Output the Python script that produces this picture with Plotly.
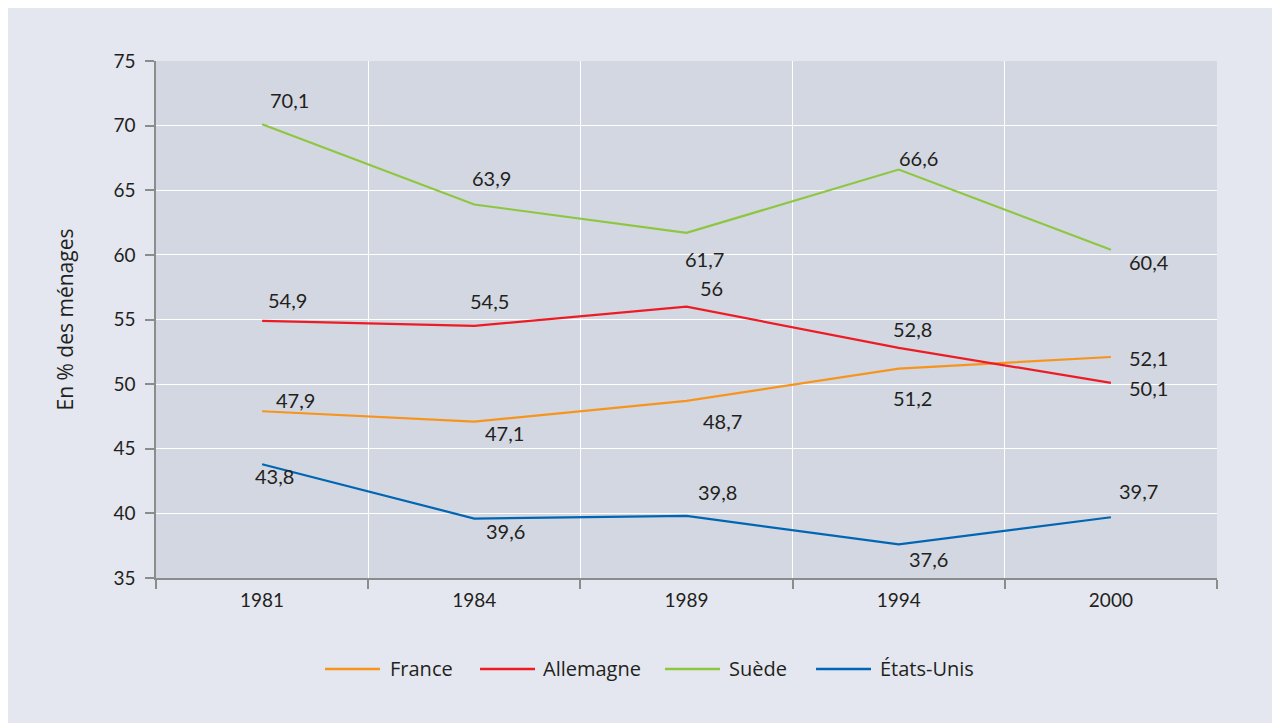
import plotly.graph_objects as go

years = ["1981", "1984", "1989", "1994", "2000"]
france = [47.9, 47.1, 48.7, 51.2, 52.1]
allemagne = [54.9, 54.5, 56.0, 52.8, 50.1]
suede = [70.1, 63.9, 61.7, 66.6, 60.4]
etats_unis = [43.8, 39.6, 39.8, 37.6, 39.7]

series = [
    ("France", france, "#f7941d"),
    ("Allemagne", allemagne, "#ed1c24"),
    ("Suède", suede, "#8dc63f"),
    ("États-Unis", etats_unis, "#0066b3"),
]

# label offsets in pixels (xshift, yshift) per point
label_offsets = {
    "France": [(12, 11), (9, -11), (14, -20), (-8, -29), (16, -1)],
    "Allemagne": [(4, 21), (-6, 25), (11, 19), (-8, 19), (16, -5)],
    "Suède": [(6, 24), (-4, 26), (-4, -26), (-2, 12), (16, -12)],
    "États-Unis": [(-9, -12), (10, -12), (9, 24), (8, -15), (6, 26)],
}

# custom legend layout (paper coords relative to plot area)
legend_y = -0.176
legend_items = [  # (line x0, line x1, text x)
    (0.1593, 0.2111, 0.2187),
    (0.3054, 0.3572, 0.3629),
    (0.4797, 0.5316, 0.5382),
    (0.6221, 0.6739, 0.6805),
]

fig = go.Figure()
annotations = []
shapes = []
for (name, vals, color), (lx0, lx1, tx) in zip(series, legend_items):
    fig.add_trace(go.Scatter(
        x=years, y=vals, name=name, mode="lines",
        line=dict(color=color, width=2.2), showlegend=False,
    ))
    for i, (v, (dx, dy)) in enumerate(zip(vals, label_offsets[name])):
        label = (f"{v:.1f}".rstrip("0").rstrip(".")).replace(".", ",")
        annotations.append(dict(
            x=i, y=v, xref="x", yref="y", text=label, showarrow=False,
            xanchor="left", yanchor="middle", xshift=dx, yshift=dy,
            font=dict(size=20, color="#231f20", family="Lato"),
        ))
    shapes.append(dict(
        type="line", xref="paper", yref="paper",
        x0=lx0, x1=lx1, y0=legend_y, y1=legend_y,
        line=dict(color=color, width=2.5),
    ))
    annotations.append(dict(
        x=tx, y=legend_y, xref="paper", yref="paper", text=name,
        showarrow=False, xanchor="left", yanchor="middle",
        font=dict(size=20, color="#231f20", family="Open Sans"),
    ))

fig.update_layout(
    width=1280, height=723,
    margin=dict(l=148, r=71, t=53, b=153),
    paper_bgcolor="#e4e7ef",
    plot_bgcolor="#d3d7e1",
    font=dict(family="Lato", size=18, color="#231f20"),
    showlegend=False,
    annotations=annotations,
    shapes=shapes,
)

fig.update_xaxes(
    type="category", tickson="boundaries", range=[-0.5, 4.5],
    showgrid=True, gridcolor="white", gridwidth=1,
    showline=True, linecolor="#8c8c8c", linewidth=1.5,
    ticks="outside", ticklen=9, tickcolor="#8c8c8c", tickwidth=1.5,
    ticklabelstandoff=4,
    tickfont=dict(size=19, color="#231f20"), zeroline=False,
)
fig.update_yaxes(
    range=[35, 75], dtick=5, tick0=35,
    showgrid=True, gridcolor="white", gridwidth=1,
    showline=True, linecolor="#8c8c8c", linewidth=1.5,
    ticks="outside", ticklen=9, tickcolor="#8c8c8c", tickwidth=1.5,
    ticklabelstandoff=6,
    tickfont=dict(size=19, color="#231f20"), zeroline=False,
    title=dict(text="En % des ménages", font=dict(size=21, color="#231f20", family="Open Sans"), standoff=34),
)

fig.write_html("out.html")
